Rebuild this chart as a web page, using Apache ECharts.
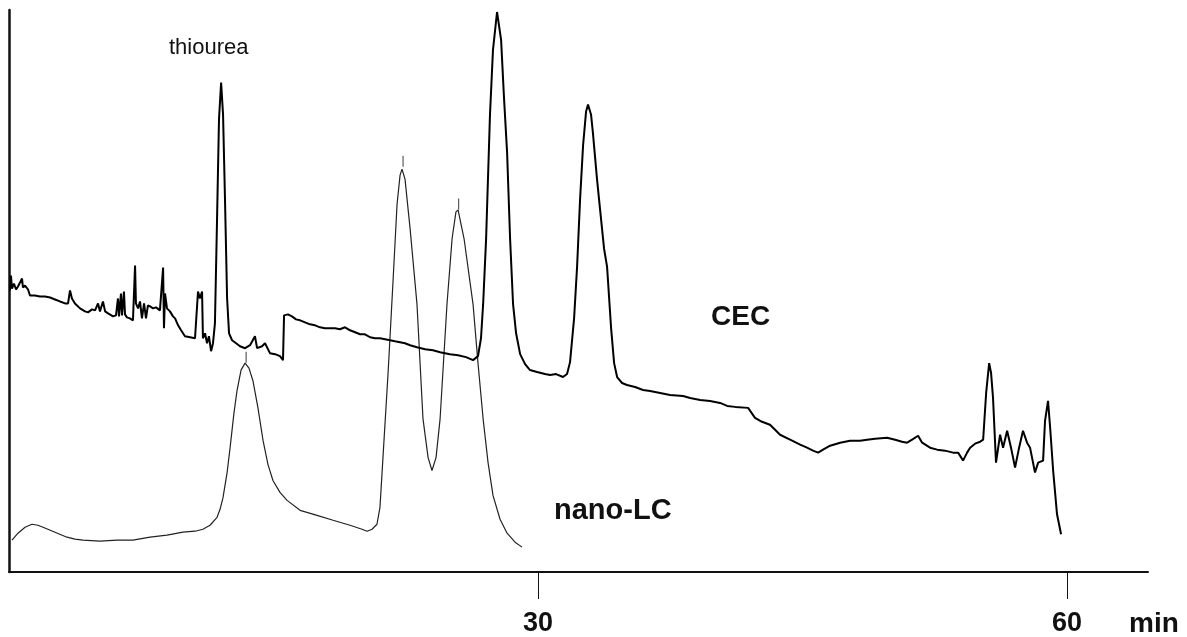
<!DOCTYPE html>
<html>
<head>
<meta charset="utf-8">
<title>CEC vs nano-LC</title>
<script src="https://cdn.jsdelivr.net/npm/echarts@6/dist/echarts.min.js"></script>
<style>
  html, body { margin: 0; padding: 0; background: #fff; }
  #chart { width: 1187px; height: 637px; }
</style>
</head>
<body>
<div id="chart"></div>
<script>
// retention time (min) and detector signal (arbitrary units)
const cecTime = [
  0.06, 0.11, 0.17, 0.28, 0.40, 0.51, 0.62, 0.74, 0.79, 0.91, 1.08, 1.19, 1.47, 1.76, 2.04, 2.33,
  2.61, 2.89, 3.18, 3.35, 3.46, 3.57, 3.74, 4.03, 4.31, 4.48, 4.71, 4.88, 5.05, 5.16, 5.33, 5.45,
  5.62, 5.73, 5.90, 6.07, 6.18, 6.24, 6.35, 6.41, 6.52, 6.58, 6.69, 6.86, 7.03, 7.15, 7.20, 7.32,
  7.43, 7.54, 7.66, 7.77, 7.88, 8.00, 8.17, 8.34, 8.56, 8.74, 8.79, 8.85, 8.96, 9.13, 9.30, 9.42,
  9.59, 9.76, 9.98, 10.27, 10.55, 10.72, 10.83, 10.95, 11.00, 11.12, 11.23, 11.34, 11.46, 11.57, 11.68, 11.80,
  11.91, 12.03, 12.14, 12.25, 12.37, 12.48, 12.65, 12.88, 13.10, 13.39, 13.67, 13.95, 14.07, 14.35, 14.52, 14.80,
  15.09, 15.37, 15.54, 15.60, 15.82, 16.05, 16.28, 16.51, 16.79, 17.07, 17.36, 17.64, 17.92, 18.21, 18.49, 18.77,
  19.06, 19.34, 19.63, 19.91, 20.19, 20.48, 20.76, 21.04, 21.33, 21.61, 21.89, 22.18, 22.46, 22.75, 23.14, 23.60,
  24.05, 24.45, 25.01, 25.47, 25.92, 26.32, 26.60, 26.77, 26.89, 27.06, 27.28, 27.45, 27.68, 27.91, 28.08, 28.25,
  28.42, 28.59, 28.76, 28.99, 29.27, 29.55, 29.95, 30.40, 30.69, 31.03, 31.42, 31.65, 31.82, 32.05, 32.22, 32.39,
  32.56, 32.73, 32.84, 33.01, 33.12, 33.35, 33.52, 33.75, 33.92, 34.15, 34.32, 34.49, 34.77, 35.05, 35.51, 35.96,
  36.36, 36.93, 37.49, 38.23, 38.63, 39.20, 39.76, 40.33, 40.73, 41.18, 41.92, 42.31, 42.71, 43.16, 43.45, 43.73,
  44.30, 44.87, 45.26, 45.60, 45.89, 46.17, 46.57, 47.14, 47.70, 48.27, 48.67, 49.12, 49.80, 50.26, 50.65, 50.94,
  51.22, 51.56, 51.79, 52.24, 52.64, 53.09, 53.54, 53.83, 54.11, 54.34, 54.51, 54.79, 55.08, 55.25, 55.42, 55.59,
  55.70, 55.81, 55.98, 56.21, 56.38, 56.61, 56.83, 57.06, 57.29, 57.51, 57.74, 57.91, 58.19, 58.37, 58.65, 58.76,
  58.93, 59.05, 59.22, 59.44, 59.67
]
const cecSignal = [
  283, 298, 285, 290, 284, 287, 285, 295, 286, 288, 284, 278, 278, 277, 277, 276,
  274, 272, 270, 270, 283, 275, 270, 265, 262, 261, 264, 263, 270, 262, 272, 262,
  260, 259, 257, 258, 275, 257, 280, 258, 282, 259, 256, 255, 253, 308, 270, 265,
  272, 255, 270, 255, 268, 267, 265, 266, 263, 306, 245, 280, 265, 262, 257, 255,
  248, 243, 237, 236, 235, 282, 275, 282, 235, 240, 230, 237, 222, 230, 250, 355,
  455, 492, 460, 375, 275, 240, 233, 230, 227, 225, 228, 237, 225, 227, 230, 220,
  219, 217, 213, 258, 259, 257, 254, 253, 251, 249, 248, 246, 245, 245, 245, 244,
  246, 243, 241, 239, 239, 236, 235, 235, 234, 233, 232, 231, 230, 228, 226, 224,
  223, 221, 219, 218, 216, 213, 217, 235, 269, 335, 460, 525, 563, 535, 475, 422,
  335, 269, 240, 219, 209, 203, 201, 199, 198, 199, 196, 199, 211, 255, 307, 375,
  429, 463, 470, 460, 441, 395, 365, 325, 307, 245, 210, 196, 190, 188, 186, 183,
  182, 180, 178, 177, 175, 173, 172, 170, 167, 166, 165, 155, 151, 148, 143, 138,
  133, 128, 125, 122, 120, 123, 127, 130, 132, 132, 133, 134, 135, 133, 131, 130,
  133, 137, 130, 125, 123, 122, 120, 120, 112, 120, 125, 129, 131, 133, 180, 210,
  200, 175, 110, 138, 125, 142, 125, 105, 125, 142, 130, 125, 100, 110, 112, 152,
  172, 145, 102, 58, 38
]

const lcTime = [
  0.17, 0.51, 0.91, 1.30, 1.64, 1.93, 2.61, 3.29, 3.74, 4.20, 5.16, 6.13, 7.03, 8.00, 8.96, 9.87,
  10.55, 11.00, 11.40, 11.80, 11.97, 12.14, 12.37, 12.54, 12.76, 12.93, 13.16, 13.39, 13.61, 13.84, 14.12, 14.41,
  14.69, 14.97, 15.37, 15.77, 16.51, 17.47, 18.38, 19.34, 20.02, 20.31, 20.59, 20.87, 21.04, 21.21, 21.50, 21.78,
  22.01, 22.18, 22.29, 22.46, 22.75, 23.14, 23.48, 23.77, 23.99, 24.22, 24.45, 24.84, 25.13, 25.35, 25.47, 25.81,
  26.32, 26.60, 26.89, 27.17, 27.45, 27.85, 28.25, 28.70, 29.10
]
const lcSignal = [
  32, 39, 45, 48, 47, 45, 40, 35, 33, 32, 31, 32, 32, 35, 37, 40,
  41, 43, 47, 55, 63, 75, 100, 125, 160, 182, 203, 210, 205, 192, 165, 132,
  108, 92, 80, 72, 62, 57, 52, 47, 43, 41, 43, 48, 65, 115, 200, 292,
  370, 399, 405, 395, 345, 269, 154, 115, 102, 115, 154, 269, 335, 362, 364, 335,
  269, 210, 154, 110, 77, 53, 39, 30, 25
]

// little vertical marks drawn just above the nano-LC peak tops
const markTime = [13.45, 22.35, 25.50]
const markSignal = [216, 413, 370]

const tickValues = [30, 60]

const font = 'Liberation Sans, Arial, Helvetica, sans-serif'

const zip = (xs, ys) => xs.map((x, i) => [x, ys[i]])

const chart = echarts.init(document.getElementById('chart'))

const option = {
  animation: false,
  backgroundColor: '#fff',
  grid: {left: 9, right: 39, top: 10, bottom: 62},
  xAxis: {
    type: 'value',
    min: 0,
    max: 64.6,
    interval: 30,
    splitLine: {show: false},
    axisLine: {lineStyle: {color: '#111', width: 2}},
    axisTick: {
      customValues: tickValues,
      length: 27,
      inside: false,
      lineStyle: {color: '#111', width: 1}
    },
    axisLabel: {
      customValues: tickValues,
      margin: 38,
      color: '#111',
      fontFamily: font,
      fontWeight: 'bold',
      fontSize: 27
    }
  },
  yAxis: {
    type: 'value',
    min: 0,
    max: 565,
    splitLine: {show: false},
    axisLine: {show: true, lineStyle: {color: '#111', width: 2.5}},
    axisTick: {show: false},
    axisLabel: {show: false}
  },
  series: [
    {
      name: 'nano-LC',
      type: 'line',
      data: zip(lcTime, lcSignal),
      showSymbol: false,
      lineStyle: {color: '#222', width: 1.2},
      z: 2
    },
    {
      name: 'CEC',
      type: 'line',
      data: zip(cecTime, cecSignal),
      showSymbol: false,
      lineStyle: {color: '#000', width: 2},
      z: 3
    },
    {
      name: 'marks',
      type: 'scatter',
      data: zip(markTime, markSignal),
      symbol: 'rect',
      symbolSize: [1.2, 11],
      itemStyle: {color: '#333'},
      z: 1
    }
  ],
  graphic: [
    {
      type: 'text', left: 169, top: 37,
      style: {text: 'thiourea', font: '22px ' + font, fill: '#111'}
    },
    {
      type: 'text', left: 711, top: 303,
      style: {text: 'CEC', font: 'bold 28px ' + font, fill: '#111'}
    },
    {
      type: 'text', left: 554, top: 496,
      style: {text: 'nano-LC', font: 'bold 29px ' + font, fill: '#111'}
    },
    {
      type: 'text', left: 1129, top: 610,
      style: {text: 'min', font: 'bold 28px ' + font, fill: '#111'}
    }
  ]
}

chart.setOption(option)
</script>
</body>
</html>
